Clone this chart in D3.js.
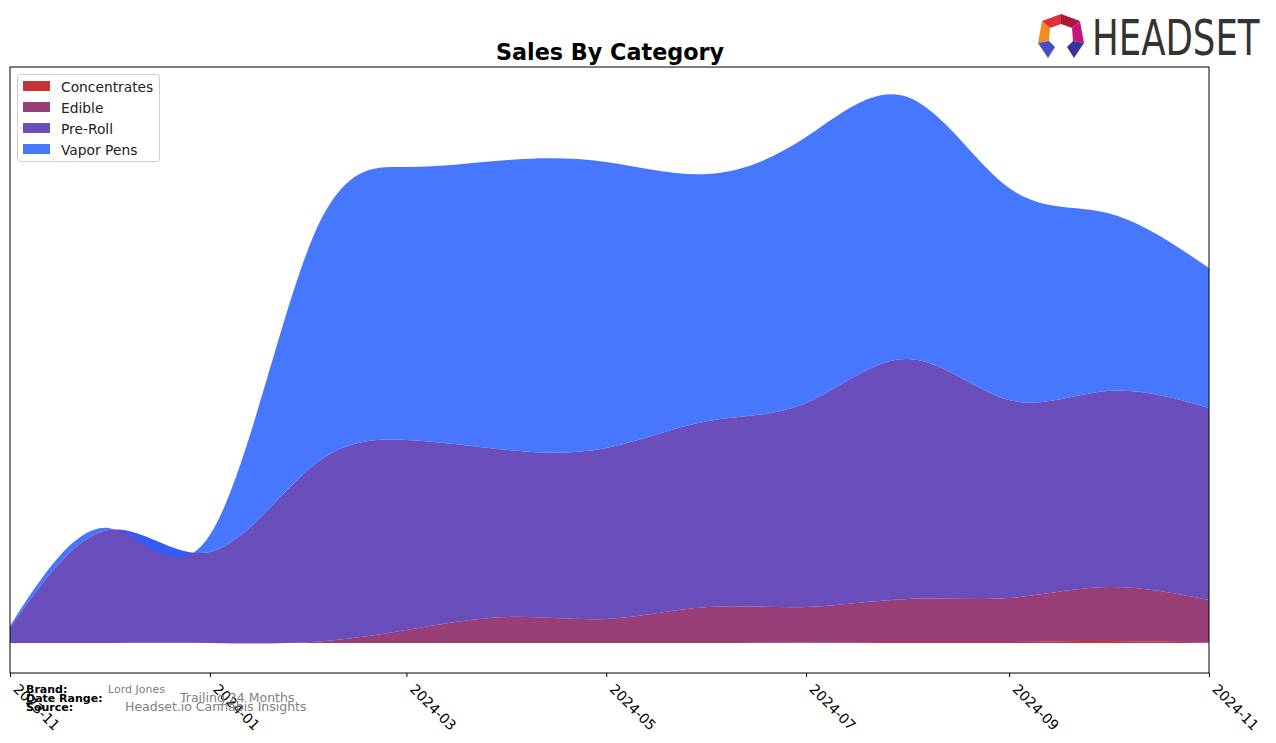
<!DOCTYPE html>
<html>
<head>
<meta charset="utf-8">
<script src="https://cdn.jsdelivr.net/npm/d3@7"></script>
<style>
  html, body { margin: 0; padding: 0; background: #fff; }
  svg { display: block; font-family: "DejaVu Sans", sans-serif; }
</style>
</head>
<body>
<svg id="chart" width="1276" height="743"></svg>
<script>
// ---- data ----
const months = ["2023-11","2023-12","2024-01","2024-02","2024-03","2024-04","2024-05",
                "2024-06","2024-07","2024-08","2024-09","2024-10","2024-11"];
const categories = ["Concentrates", "Edible", "Pre-Roll", "Vapor Pens"];
const concentrates = [0, 0, 0, 0, 0, 0, 0, 0, 0.5, 1, 1, 2, 0.5];
const edible       = [0, 0, 0, 1, 13, 26, 24, 36, 35.5, 43, 44, 54, 42.5];
const preRoll      = [15, 113, 91, 175, 190, 167, 171, 186, 204, 240, 198, 196, 192];
const vaporPens    = [2, 2, 17, 226, 273, 290, 286, 247, 266, 262, 212, 178, 140];
const tickLabels = ["2023-11","2024-01","2024-03","2024-05","2024-07","2024-09","2024-11"];
const colors = ["#BC1114", "#851D5E", "#502FAF", "#285FFF"];
const fillAlpha = 0.85;

const meta = {brand: "Lord Jones", range: "Trailing 24 Months", source: "Headset.io Cannabis Insights"};

// ---- layout ----
const svg = d3.select("#chart");
const pLeft = 10, pRight = 1209, pTop = 67, pBottom = 673;
const parse = d3.timeParse("%Y-%m");

const rows = months.map((m, i) => ({
  date: parse(m),
  "Concentrates": concentrates[i],
  "Edible": edible[i],
  "Pre-Roll": preRoll[i],
  "Vapor Pens": vaporPens[i]
}));

const x = d3.scaleTime()
  .domain([parse(months[0]), parse(months[months.length - 1])])
  .range([pLeft, pRight]);

const stack = d3.stack().keys(categories);
const series = stack(rows);
const maxV = d3.max(series[series.length - 1], d => d[1]);
const y = d3.scaleLinear()
  .domain([-0.055 * maxV, 1.055 * maxV])
  .range([pBottom, pTop]);

const area = d3.area()
  .x(d => x(d.data.date))
  .y0(d => y(d[0]))
  .y1(d => y(d[1]))
  .curve(d3.curveNatural);

svg.append("clipPath").attr("id", "plotclip")
  .append("rect").attr("x", pLeft).attr("y", pTop)
  .attr("width", pRight - pLeft).attr("height", pBottom - pTop);

svg.append("g").attr("clip-path", "url(#plotclip)")
  .selectAll("path")
  .data(series)
  .join("path")
  .attr("d", area)
  .attr("fill", (d, i) => colors[i])
  .attr("fill-opacity", fillAlpha)
  .attr("stroke", "none");

// frame
svg.append("rect")
  .attr("x", pLeft).attr("y", pTop)
  .attr("width", pRight - pLeft).attr("height", pBottom - pTop)
  .attr("fill", "none").attr("stroke", "#000").attr("stroke-width", 1);

// x axis
const tickDates = tickLabels.map(parse);
const xAxis = d3.axisBottom(x)
  .tickValues(tickDates)
  .tickFormat(d3.timeFormat("%Y-%m"))
  .tickSize(4)
  .tickSizeOuter(0);
const gx = svg.append("g").attr("transform", `translate(0,${pBottom})`).call(xAxis);
gx.select(".domain").remove();
gx.selectAll(".tick line").attr("stroke", "#000");
gx.selectAll(".tick text")
  .attr("font-family", "DejaVu Sans")
  .attr("font-size", 14)
  .attr("fill", "#000")
  .attr("text-anchor", "start")
  .attr("dy", null)
  .attr("y", 0)
  .attr("transform", "translate(2,17) rotate(45)");

// title
svg.append("text")
  .attr("x", 610).attr("y", 60)
  .attr("text-anchor", "middle")
  .attr("font-family", "DejaVu Sans")
  .attr("font-weight", "bold")
  .attr("font-size", 22.3)
  .text("Sales By Category");

// legend
const lg = svg.append("g");
lg.append("rect")
  .attr("x", 17.5).attr("y", 74.5).attr("width", 142).attr("height", 87)
  .attr("rx", 3).attr("fill", "#fff").attr("fill-opacity", 0.8)
  .attr("stroke", "#cccccc");
categories.forEach((c, i) => {
  lg.append("rect").attr("x", 23).attr("y", 81 + i * 21)
    .attr("width", 27).attr("height", 10)
    .attr("fill", colors[i]).attr("fill-opacity", fillAlpha);
  lg.append("text").attr("x", 61).attr("y", 91.5 + i * 21)
    .attr("font-family", "DejaVu Sans").attr("font-size", 13.8)
    .attr("fill", "#222").text(c);
});

// footer meta text
const ft = svg.append("g").attr("font-family", "DejaVu Sans");
ft.append("text").attr("x", 26).attr("y", 693).attr("font-size", 11).attr("font-weight", "bold").text("Brand:");
ft.append("text").attr("x", 26).attr("y", 702).attr("font-size", 11).attr("font-weight", "bold").text("Date Range:");
ft.append("text").attr("x", 26).attr("y", 710.5).attr("font-size", 11).attr("font-weight", "bold").text("Source:");
ft.append("text").attr("x", 108).attr("y", 693).attr("font-size", 11).attr("fill", "#808080").text(meta.brand);
ft.append("text").attr("x", 180).attr("y", 702).attr("font-size", 12.5).attr("fill", "#808080").text(meta.range);
ft.append("text").attr("x", 125).attr("y", 711).attr("font-size", 12.5).attr("fill", "#808080").text(meta.source);

// HEADSET logo
const logo = svg.append("g");
const pieces = [
  {pts: [[1042,21],[1050,28],[1049,41],[1038,43]], c: "#F28C22"},
  {pts: [[1042,21],[1061,14],[1061,24],[1050,28]], c: "#E1303C"},
  {pts: [[1061,14],[1080,21],[1072,28],[1061,24]], c: "#B3163C"},
  {pts: [[1080,21],[1084,43],[1073,41],[1072,28]], c: "#C2187C"},
  {pts: [[1038,43],[1049,41],[1055,47],[1048,58]], c: "#4B4CC8"},
  {pts: [[1084,43],[1073,41],[1067,47],[1074,58]], c: "#34349A"}
];
pieces.forEach(p => {
  logo.append("polygon").attr("points", p.pts.map(q => q.join(",")).join(" ")).attr("fill", p.c);
});
logo.append("text")
  .attr("transform", "translate(1092,55) scale(0.79,1)")
  .attr("font-family", "DejaVu Sans Condensed, Liberation Sans Narrow, DejaVu Sans")
  .attr("font-size", 50).attr("fill", "#333333")
  .text("HEADSET");
</script>
</body>
</html>
